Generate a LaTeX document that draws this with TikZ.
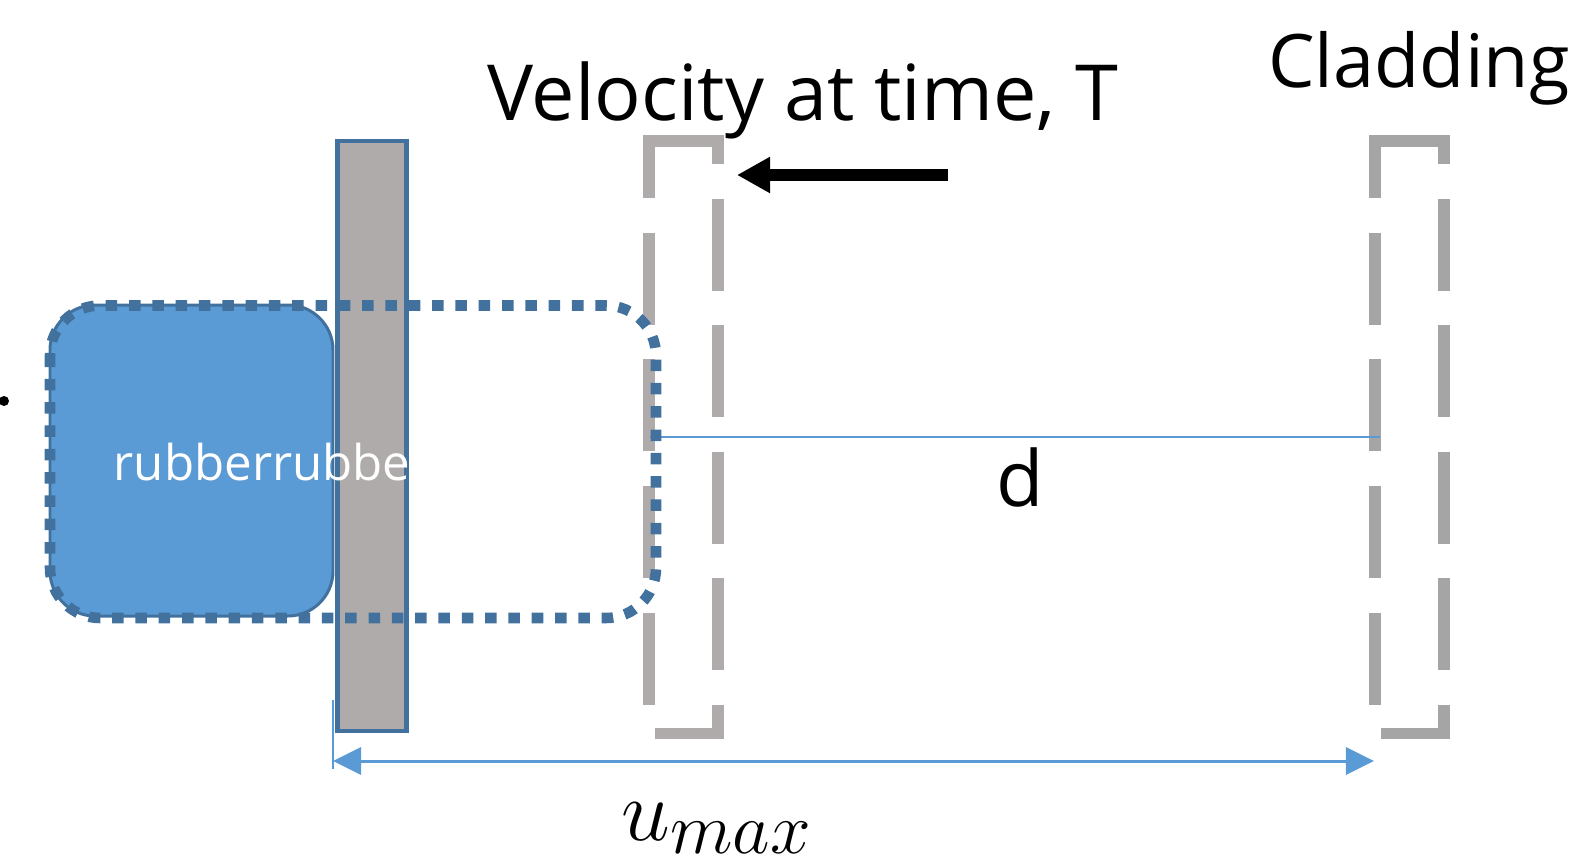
\documentclass[tikz,border=0pt]{standalone}
\usepackage{fontspec}
\usepackage{tikz}
\usetikzlibrary{arrows.meta}
\newfontfamily\labelfont{Open Sans}
\definecolor{rubblue}{RGB}{91,155,213}
\definecolor{rubedge}{RGB}{65,113,156}
\definecolor{platefill}{RGB}{175,171,171}
\definecolor{cladA}{RGB}{175,171,171}
\definecolor{cladB}{RGB}{165,165,165}
% dashed cladding outline, left edge x = #1
\newcommand{\cladbox}[2]{%
  \draw[clad, #2] (#1-5.75,141) -- (#1+69,141) -- (#1+69,733.5) -- (#1,733.5) -- (#1,141-5.75);}
\tikzset{
  rubber/.style={fill=rubblue, draw=rubedge, line width=0.85pt, rounded corners=0.45cm},
  ghost/.style={draw=rubedge, line width=3pt, dash pattern=on 0.115cm off 0.118cm, rounded corners=0.5cm},
  platebox/.style={fill=platefill, draw=rubedge, line width=1.3pt},
  clad/.style={line width=3.27pt, dash pattern=on 0.92cm off 0.345cm, dash phase=1.2075cm},
  dimln/.style={rubblue, line width=0.85pt},
  gapln/.style={rubblue, line width=0.7pt},
  vel/.style={-{Triangle[length=0.33cm,width=0.34cm]}, line width=3.4pt},
  dimarr/.style={{Triangle[length=0.28cm,width=0.27cm]}-{Triangle[length=0.28cm,width=0.27cm]}, dimln},
  lbl/.style={font=\labelfont\fontsize{22}{26}\selectfont, inner sep=0pt},
}
\begin{document}
\begin{tikzpicture}[x=0.01cm, y=-0.01cm]
\useasboundingbox (0,0) rectangle (1575,866);
%---- rubber block and plate
\draw[rubber] (50,305) rectangle (333,616);
\draw[platebox] (337.5,141) rectangle (406.5,731);
\begin{scope}
  \clip (0,0) rectangle (408,866);
  \node[font=\labelfont\fontsize{14}{16}\selectfont, text=white, inner sep=0pt, anchor=base west]
       (rubtxt) at (113,480) {rubberrubbe};
\end{scope}
\fill (4,401) circle[radius=0.05cm];
%---- cladding positions
\cladbox{649}{cladA}
\cladbox{1375}{cladB}
%---- gap d
\coordinate (gapL) at (650,437);
\coordinate (gapR) at (1380,437);
\draw[gapln] (gapL) -- (gapR);
\node[lbl, anchor=base] (dlbl) at (1020,506) {d};
%---- deformed rubber
\draw[ghost] (50,305.5) rectangle (656,618);
%---- velocity
\coordinate (velS) at (948,175);
\coordinate (velE) at (737,175);
\draw[vel] (velS) -- (velE);
\node[lbl, anchor=base] (veltxt) at (803,120) {Velocity at time, T};
\node[lbl, font=\labelfont\fontsize{21}{25}\selectfont, anchor=base] (cladtxt) at (1419,87) {Cladding};
%---- max displacement
\coordinate (tickT) at (333,700);
\coordinate (tickB) at (333,769);
\draw[dimln] (tickT) -- (tickB);
\coordinate (uL) at (333,761);
\coordinate (uR) at (1374,761);
\draw[dimarr] (uL) -- (uR);
\node[font=\fontsize{29}{33}\selectfont, inner sep=0pt, anchor=base] (umax) at (717,840) {$u_{max}$};
\end{tikzpicture}
\end{document}
